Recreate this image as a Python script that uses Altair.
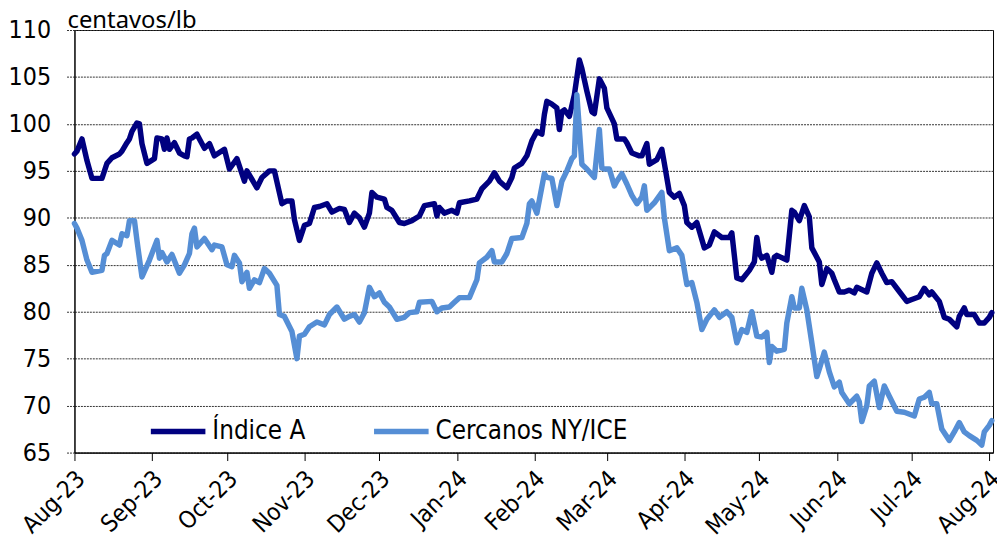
import altair as alt
import pandas as pd

# Days since 2023-08-01 and values (centavos/lb)
DAYS_A = [0, 1, 3, 5, 7, 11, 13, 15, 18, 19, 21, 22, 23, 25, 26, 27, 29, 32, 33, 35,
          36, 37, 38, 40, 42, 44, 45, 46, 47, 49, 50, 52, 54, 56, 60, 62, 65, 68, 69, 73,
          75, 78, 80, 83, 85, 87, 88, 90, 92, 94, 96, 98, 101, 103, 106, 108, 110, 112, 114, 116,
          118, 119, 121, 124, 125, 127, 130, 132, 135, 138, 140, 144, 145, 146, 148, 151, 153, 154, 158, 161,
          163, 166, 168, 170, 173, 175, 176, 179, 181, 183, 185, 187, 188, 189, 191, 193, 194, 195, 196, 198,
          200, 202, 203, 205, 207, 208, 210, 212, 213, 216, 217, 220, 221, 223, 226, 227, 229, 230, 233, 235,
          236, 238, 240, 242, 244, 245, 247, 249, 252, 254, 256, 259, 262, 263, 265, 267, 270, 272, 273, 274,
          275, 277, 279, 280, 281, 285, 287, 288, 290, 292, 294, 295, 298, 299, 301, 303, 304, 306, 308, 310,
          312, 313, 317, 319, 321, 323, 325, 327, 329, 333, 335, 338, 340, 342, 343, 346, 348, 350, 353, 354,
          356, 357, 360, 362, 364, 366, 367]
VAL_A = [96.8, 97.1, 98.4, 96.1, 94.2, 94.2, 95.8, 96.4, 96.8, 97.1, 98.0, 98.4, 99.2, 100.1, 100.0, 97.9, 95.8, 96.3, 98.5, 98.4,
         97.3, 98.5, 97.3, 98.0, 96.9, 96.6, 96.5, 98.4, 98.5, 98.9, 98.4, 97.4, 97.9, 96.6, 97.3, 95.2, 96.3, 93.9, 95.0, 93.2,
         94.3, 95.0, 95.0, 91.5, 91.8, 91.8, 89.8, 87.6, 89.2, 89.4, 91.1, 91.2, 91.5, 90.6, 91.0, 90.9, 89.5, 90.5, 90.0, 89.0,
         90.5, 92.7, 92.2, 92.0, 91.1, 90.8, 89.5, 89.4, 89.7, 90.2, 91.3, 91.5, 90.2, 91.1, 90.5, 90.8, 90.5, 91.6, 91.8, 92.0,
         93.1, 93.9, 94.8, 93.9, 93.2, 94.3, 95.3, 95.8, 96.6, 98.2, 99.2, 98.9, 101.0, 102.4, 102.1, 101.7, 99.4, 101.3, 101.5, 100.8,
         103.1, 106.8, 105.9, 103.5, 101.3, 101.1, 104.8, 103.8, 101.7, 100.0, 98.4, 98.4, 98.0, 96.9, 96.6, 96.6, 97.9, 95.7, 96.2, 97.3,
         95.8, 92.7, 92.2, 92.6, 91.3, 89.5, 89.0, 89.5, 86.8, 87.1, 88.5, 87.9, 87.9, 88.4, 83.6, 83.4, 84.4, 85.3, 87.9, 86.2,
         85.7, 86.0, 84.2, 85.8, 86.0, 85.5, 90.8, 90.6, 89.7, 91.3, 90.1, 86.8, 85.3, 82.9, 84.6, 84.1, 83.4, 82.1, 82.1, 82.3,
         82.0, 82.6, 82.1, 84.1, 85.2, 84.1, 83.1, 83.2, 82.5, 81.1, 81.3, 81.6, 82.5, 81.8, 82.1, 81.1, 79.4, 79.2, 78.4, 79.5,
         80.4, 79.7, 79.7, 78.8, 78.8, 79.4, 79.9]

DAYS_C = [0, 1, 3, 5, 7, 11, 12, 13, 15, 18, 19, 21, 22, 24, 25, 27, 30, 33, 34, 35,
          37, 39, 42, 44, 46, 47, 48, 49, 52, 55, 56, 59, 61, 63, 64, 66, 67, 69, 70, 72,
          74, 76, 78, 81, 82, 84, 87, 89, 90, 92, 94, 97, 100, 102, 105, 108, 110, 112, 114, 116,
          118, 120, 122, 124, 126, 129, 132, 134, 137, 138, 143, 145, 147, 150, 152, 154, 158, 161, 162, 165,
          167, 168, 171, 173, 175, 179, 181, 182, 183, 185, 188, 189, 191, 193, 195, 197, 199, 200, 201, 203,
          205, 208, 210, 211, 212, 214, 216, 217, 219, 221, 223, 225, 227, 228, 229, 232, 235, 236, 238, 241,
          243, 245, 247, 249, 251, 253, 256, 258, 261, 263, 265, 267, 269, 271, 273, 275, 277, 278, 279, 281,
          284, 285, 287, 288, 290, 291, 293, 295, 297, 298, 300, 302, 304, 306, 307, 310, 313, 314, 315, 317,
          318, 320, 322, 324, 326, 329, 332, 336, 338, 340, 342, 343, 345, 347, 350, 352, 354, 356, 358, 361,
          363, 364, 366, 367]
VAL_C = [89.4, 88.9, 87.6, 85.5, 84.2, 84.4, 86.0, 86.2, 87.6, 87.1, 88.3, 88.1, 89.7, 89.7, 87.6, 83.7, 85.5, 87.6, 85.7, 86.3,
         85.3, 86.1, 84.1, 85.0, 86.2, 88.3, 88.9, 86.9, 87.8, 86.6, 87.1, 86.9, 85.0, 84.8, 86.0, 85.2, 83.2, 84.2, 82.5, 83.4,
         83.1, 84.6, 84.1, 82.8, 79.7, 79.5, 77.9, 75.0, 77.4, 77.6, 78.4, 78.9, 78.6, 79.7, 80.5, 79.2, 79.5, 79.7, 78.9, 79.9,
         82.6, 81.6, 82.0, 81.0, 80.5, 79.2, 79.4, 79.9, 80.0, 81.0, 81.1, 80.0, 80.4, 80.5, 81.0, 81.5, 81.5, 83.4, 85.2, 85.8,
         86.5, 85.3, 85.3, 86.2, 87.8, 87.9, 89.4, 91.5, 91.8, 90.5, 94.7, 94.3, 94.2, 91.3, 93.9, 95.0, 96.3, 96.6, 103.1, 95.7,
         95.2, 94.3, 99.4, 95.3, 95.2, 95.2, 93.4, 93.9, 94.7, 93.6, 92.4, 91.5, 92.2, 93.4, 90.8, 91.6, 92.7, 90.0, 86.5, 86.8,
         86.0, 82.9, 83.1, 81.0, 78.1, 79.2, 80.2, 79.4, 80.0, 79.4, 76.7, 78.1, 77.8, 80.0, 77.4, 77.3, 77.8, 74.6, 76.3, 75.8,
         76.0, 78.8, 81.6, 80.4, 80.4, 82.5, 80.2, 76.7, 73.1, 73.9, 75.7, 73.6, 72.0, 72.5, 71.4, 70.2, 71.0, 70.4, 68.3, 70.0,
         72.1, 72.6, 69.8, 72.1, 71.0, 69.4, 69.3, 68.9, 70.7, 70.9, 71.4, 70.2, 70.2, 67.5, 66.3, 67.2, 68.2, 67.2, 66.8, 66.3,
         65.8, 67.2, 67.9, 68.4]

SERIES = ["Índice A", "Cercanos NY/ICE"]
COLORS = ["#000080", "#558ed5"]
Y_TICKS = [65, 70, 75, 80, 85, 90, 95, 100, 105, 110]
UNIT_LABEL = ["centavos/lb"]

base = pd.Timestamp("2023-08-01")


def frame(days, vals, name):
    d = (base + pd.to_timedelta(days, unit="D")).strftime("%Y-%m-%d")
    return pd.DataFrame({"date": d, "value": vals, "series": name})


df = pd.concat([frame(DAYS_A, VAL_A, SERIES[0]), frame(DAYS_C, VAL_C, SERIES[1])], ignore_index=True)

AX_FONT = "Liberation Sans Narrow, DejaVu Sans Condensed, Arial Narrow, sans-serif"

lines = alt.Chart(df).mark_line(strokeWidth=5.5, strokeJoin="round", strokeCap="round").encode(
    x=alt.X(
        "date:T",
        scale=alt.Scale(
            type="utc",
            domain=[
                alt.DateTime(year=2023, month=8, date=1, utc=True),
                alt.DateTime(year=2024, month=8, date=2, hours=12, utc=True),
            ],
        ),
        axis=alt.Axis(
            title=None, format="%b-%y", tickCount={"interval": "month", "step": 1},
            labelAngle=-45, labelAlign="right", labelBaseline="top",
            labelFont=AX_FONT, labelFontSize=24, labelColor="black",
            tickSize=8, tickColor="black", domainColor="black", grid=False,
            labelPadding=6, labelOffset=-2, labelOverlap=False,
        ),
    ),
    y=alt.Y(
        "value:Q",
        scale=alt.Scale(domain=[65, 110], nice=False, zero=False),
        axis=alt.Axis(
            title=None, values=Y_TICKS, grid=True, gridDash=[2, 1], gridColor="#333333",
            tickSize=8, tickColor="#333333", tickDash=[2, 1], domainColor="black",
            labelFont=AX_FONT, labelFontSize=25, labelColor="black", labelPadding=16,
        ),
    ),
    color=alt.Color(
        "series:N",
        sort=SERIES,
        scale=alt.Scale(domain=SERIES, range=COLORS),
        legend=alt.Legend(
            orient="none", legendX=74, legendY=374, direction="horizontal", title=None,
            labelFont=AX_FONT, labelFontSize=26, labelColor="black", labelLimit=0,
            symbolType="stroke", symbolStrokeWidth=5.5, symbolSize=3025,
            columnPadding=58, labelOffset=4,
        ),
    ),
)

unit = alt.Chart(pd.DataFrame({"t": UNIT_LABEL})).mark_text(
    align="left", baseline="alphabetic", font="Noto Sans", fontSize=24, color="black"
).encode(x=alt.value(-7), y=alt.value(-2), text="t:N")

chart = alt.layer(lines, unit).properties(
    width=926, height=426,
    autosize=alt.AutoSizeParams(type="none"),
    padding={"left": 67, "top": 20, "right": 4, "bottom": 94},
).configure_view(stroke="black", strokeWidth=1)

chart.save("out.html", embed_options={"renderer": "svg", "actions": False})
